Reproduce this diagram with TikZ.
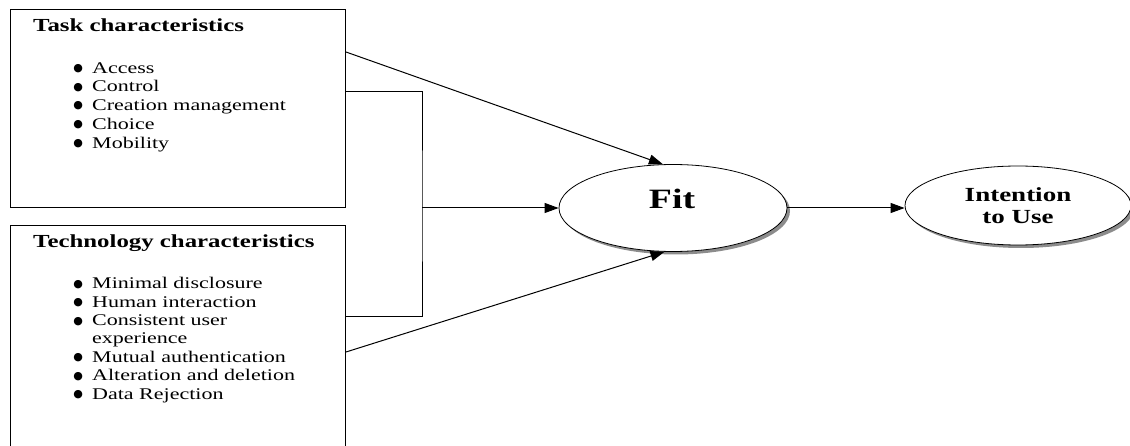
\documentclass[tikz,border=0pt]{standalone}
\usepackage{fontspec}
\setmainfont{Liberation Serif}[FakeStretch=1.35]
\newfontfamily\bulletfont{DejaVu Sans}
\usetikzlibrary{arrows.meta,shapes.geometric,shadows}
\newcommand{\itembullet}{\llap{{\bulletfont\fontsize{11}{11}\selectfont\raisebox{1.8pt}{●}}\hspace{9.2pt}}}

\begin{document}
\begin{tikzpicture}[
  x=1pt, y=-1pt,
  charbox/.style={draw, line width=1pt, anchor=north west, minimum width=335pt, inner sep=0pt},
  boxtitle/.style={anchor=base west, inner sep=0pt, font=\fontsize{18.4}{20}\selectfont\bfseries},
  item/.style={anchor=base west, inner sep=0pt, font=\fontsize{16.3}{18.6}\selectfont},
  construct/.style={draw, ellipse, fill=white, line width=0.8pt, drop shadow={shadow xshift=3pt, shadow yshift=-3pt, fill=black!45, opacity=1}},
  line/.style={line width=1pt},
  arrow/.style={line width=1pt, -{Triangle[length=14pt, width=10pt]}}
]
  \useasboundingbox (0,0) rectangle (1130,446);
  \clip (0,0) rectangle (1130,446);
  % characteristics boxes
  \node[charbox, minimum height=198pt] (task) at (10,9) {};
  \node[charbox, minimum height=240pt] (tech) at (10,225) {};
  \node[boxtitle] (tasktitle) at (33,32) {Task characteristics};
  \node[boxtitle] (techtitle) at (33,248) {Technology characteristics};
  \foreach \y/\txt [count=\i] in {73.3/Access, 92/Control, 110.7/Creation management, 129.5/Choice, 148.2/Mobility}
    \node[item] (taskitem\i) at (92,\y) {\itembullet\txt};
  \foreach \y/\txt [count=\i] in {289/Minimal disclosure, 307.5/Human interaction, 326/Consistent user, 362.5/Mutual authentication, 381/Alteration and deletion, 399.5/Data Rejection}
    \node[item] (techitem\i) at (92,\y) {\itembullet\txt};
  \node[item] (techwrap) at (92,344) {experience};
  % constructs
  \node[construct, minimum width=228pt, minimum height=87pt] (fit) at (673,208) {};
  \node[font=\fontsize{28}{30}\selectfont\bfseries, inner sep=0pt, anchor=base] (fitlabel) at (672,208.3) {Fit};
  \node[construct, minimum width=226pt, minimum height=79pt, align=center, font=\fontsize{20}{22}\selectfont\bfseries] (intent) at (1018,205.5) {Intention\\to Use};
  % connectors
  \coordinate (merge) at (422,208);
  \draw[arrow] ([yshift=-43pt]task.north east) -- (fit.103);
  \draw[arrow] ([yshift=-127pt]tech.north east) -- (fit.259);
  \draw[line] ([yshift=-83pt]task.north east) -| (merge) |- ([yshift=-92pt]tech.north east);
  \draw[arrow] (merge) -- (fit.west);
  \draw[arrow] (fit.east) -- (fit.east -| intent.west);
\end{tikzpicture}
\end{document}
